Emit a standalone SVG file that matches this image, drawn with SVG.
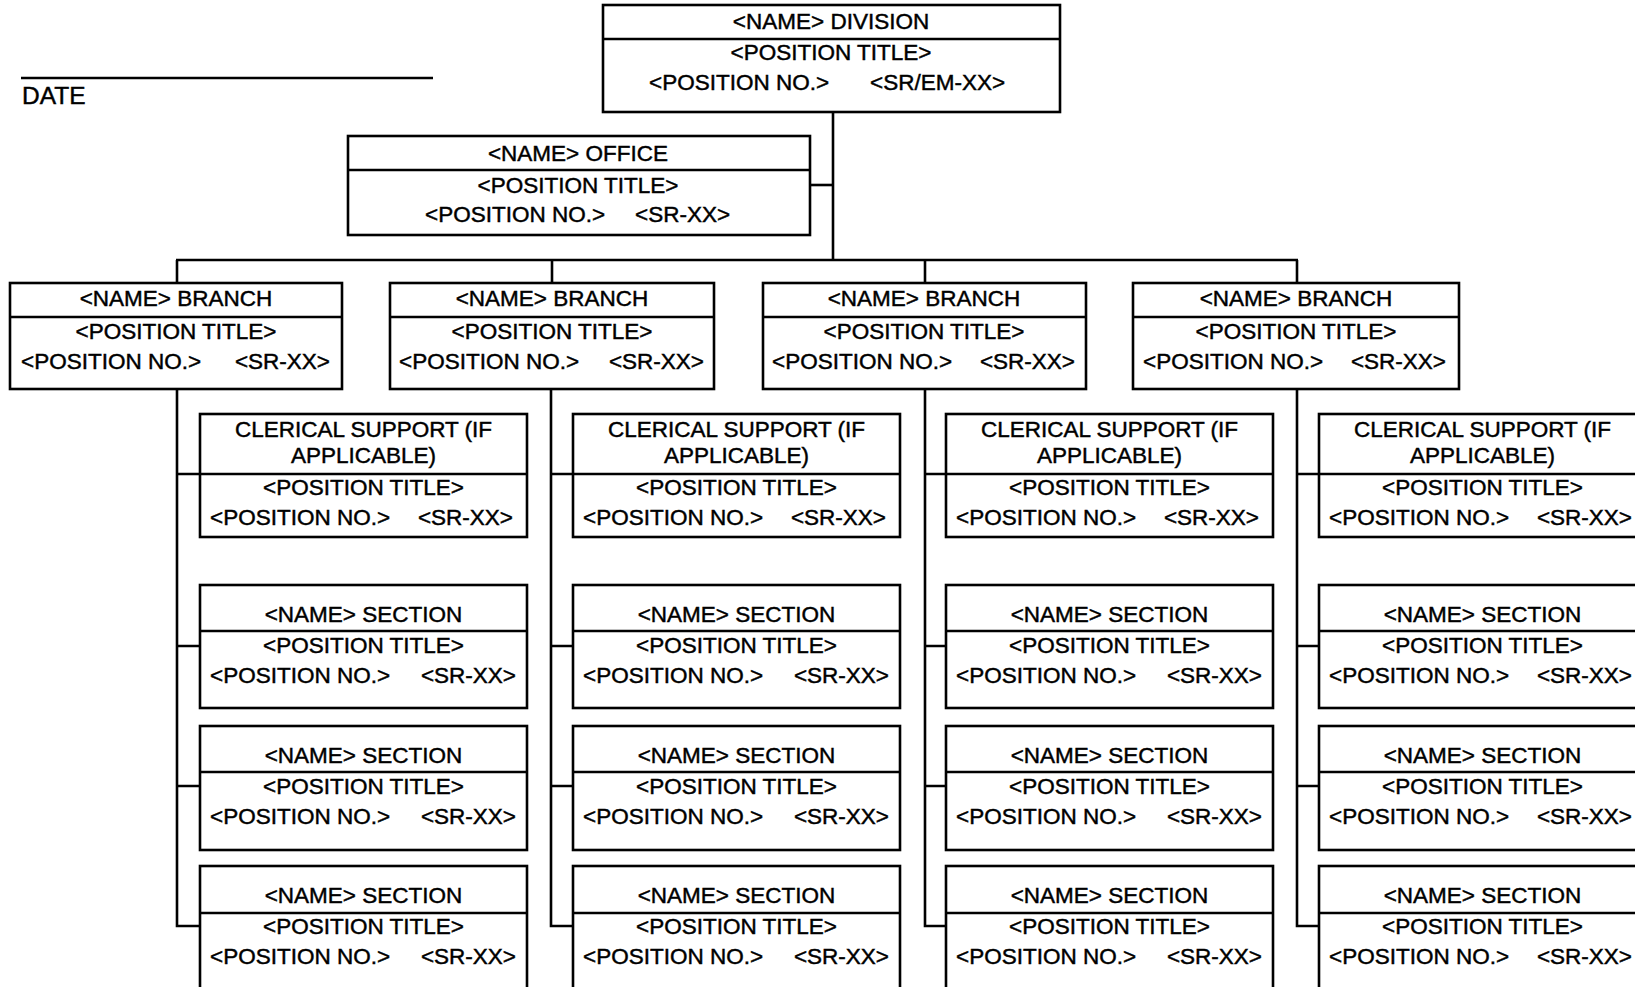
<svg xmlns="http://www.w3.org/2000/svg" width="1635" height="987" viewBox="0 0 1635 987">
<style>
.b{fill:none;stroke:#000;stroke-width:2.6}
.l{stroke:#000;stroke-width:2.6;fill:none}
text{font-family:"Liberation Sans",Arial,Helvetica,sans-serif;font-size:22.5px;fill:#000;stroke:#000;stroke-width:0.45}
.c{text-anchor:middle}
.e{text-anchor:end}
</style>
<rect width="1635" height="987" fill="#fff"/>
<g id="date">
<line class="l" x1="21" y1="78" x2="433" y2="78"/>
<text x="22" y="104" style="font-size:24.5px">DATE</text>
</g>
<g id="connectors">
<line class="l" x1="833" y1="112" x2="833" y2="261"/>
<line class="l" x1="810" y1="185" x2="833" y2="185"/>
<line class="l" x1="176" y1="260" x2="1298" y2="260"/>
<line class="l" x1="177" y1="260" x2="177" y2="283"/>
<line class="l" x1="552" y1="260" x2="552" y2="283"/>
<line class="l" x1="925" y1="260" x2="925" y2="283"/>
<line class="l" x1="1297" y1="260" x2="1297" y2="283"/>
<path class="l" d="M177 389V926H200M177 474H200M177 646H200M177 786H200"/>
<path class="l" d="M551 389V926H573M551 474H573M551 646H573M551 786H573"/>
<path class="l" d="M925 389V926H946M925 474H946M925 646H946M925 786H946"/>
<path class="l" d="M1297 389V926H1319M1297 474H1319M1297 646H1319M1297 786H1319"/>
</g>
<g id="division">
<rect class="b" x="603" y="5" width="457" height="107"/>
<line class="l" x1="603" y1="39" x2="1060" y2="39"/>
<text class="c" x="831" y="29">&lt;NAME&gt; DIVISION</text>
<text class="c" x="831" y="60">&lt;POSITION TITLE&gt;</text>
<text x="649" y="90">&lt;POSITION NO.&gt;</text>
<text x="870" y="90">&lt;SR/EM-XX&gt;</text>
</g>
<g id="office">
<rect class="b" x="348" y="136" width="462" height="99"/>
<line class="l" x1="348" y1="170" x2="810" y2="170"/>
<text class="c" x="578" y="161">&lt;NAME&gt; OFFICE</text>
<text class="c" x="578" y="193">&lt;POSITION TITLE&gt;</text>
<text x="425" y="222">&lt;POSITION NO.&gt;</text>
<text x="635" y="222">&lt;SR-XX&gt;</text>
</g>
<g id="branch1">
<rect class="b" x="10" y="283" width="332" height="106"/>
<line class="l" x1="10" y1="317" x2="342" y2="317"/>
<text class="c" x="176" y="306">&lt;NAME&gt; BRANCH</text>
<text class="c" x="176" y="339">&lt;POSITION TITLE&gt;</text>
<text x="21" y="369">&lt;POSITION NO.&gt;</text>
<text class="e" x="330" y="369">&lt;SR-XX&gt;</text>
</g>
<g id="branch2">
<rect class="b" x="390" y="283" width="324" height="106"/>
<line class="l" x1="390" y1="317" x2="714" y2="317"/>
<text class="c" x="552" y="306">&lt;NAME&gt; BRANCH</text>
<text class="c" x="552" y="339">&lt;POSITION TITLE&gt;</text>
<text x="399" y="369">&lt;POSITION NO.&gt;</text>
<text class="e" x="704" y="369">&lt;SR-XX&gt;</text>
</g>
<g id="branch3">
<rect class="b" x="763" y="283" width="323" height="106"/>
<line class="l" x1="763" y1="317" x2="1086" y2="317"/>
<text class="c" x="924" y="306">&lt;NAME&gt; BRANCH</text>
<text class="c" x="924" y="339">&lt;POSITION TITLE&gt;</text>
<text x="772" y="369">&lt;POSITION NO.&gt;</text>
<text class="e" x="1075" y="369">&lt;SR-XX&gt;</text>
</g>
<g id="branch4">
<rect class="b" x="1133" y="283" width="326" height="106"/>
<line class="l" x1="1133" y1="317" x2="1459" y2="317"/>
<text class="c" x="1296" y="306">&lt;NAME&gt; BRANCH</text>
<text class="c" x="1296" y="339">&lt;POSITION TITLE&gt;</text>
<text x="1143" y="369">&lt;POSITION NO.&gt;</text>
<text class="e" x="1446" y="369">&lt;SR-XX&gt;</text>
</g>
<g id="clerical1">
<rect class="b" x="200" y="414" width="327" height="123"/>
<line class="l" x1="200" y1="474" x2="527" y2="474"/>
<text class="c" x="363.5" y="437">CLERICAL SUPPORT (IF</text>
<text class="c" x="363.5" y="463">APPLICABLE)</text>
<text class="c" x="363.5" y="495">&lt;POSITION TITLE&gt;</text>
<text x="210" y="525">&lt;POSITION NO.&gt;</text>
<text class="e" x="513" y="525">&lt;SR-XX&gt;</text>
</g>
<g id="clerical2">
<rect class="b" x="573" y="414" width="327" height="123"/>
<line class="l" x1="573" y1="474" x2="900" y2="474"/>
<text class="c" x="736.5" y="437">CLERICAL SUPPORT (IF</text>
<text class="c" x="736.5" y="463">APPLICABLE)</text>
<text class="c" x="736.5" y="495">&lt;POSITION TITLE&gt;</text>
<text x="583" y="525">&lt;POSITION NO.&gt;</text>
<text class="e" x="886" y="525">&lt;SR-XX&gt;</text>
</g>
<g id="clerical3">
<rect class="b" x="946" y="414" width="327" height="123"/>
<line class="l" x1="946" y1="474" x2="1273" y2="474"/>
<text class="c" x="1109.5" y="437">CLERICAL SUPPORT (IF</text>
<text class="c" x="1109.5" y="463">APPLICABLE)</text>
<text class="c" x="1109.5" y="495">&lt;POSITION TITLE&gt;</text>
<text x="956" y="525">&lt;POSITION NO.&gt;</text>
<text class="e" x="1259" y="525">&lt;SR-XX&gt;</text>
</g>
<g id="clerical4">
<rect class="b" x="1319" y="414" width="327" height="123"/>
<line class="l" x1="1319" y1="474" x2="1646" y2="474"/>
<text class="c" x="1482.5" y="437">CLERICAL SUPPORT (IF</text>
<text class="c" x="1482.5" y="463">APPLICABLE)</text>
<text class="c" x="1482.5" y="495">&lt;POSITION TITLE&gt;</text>
<text x="1329" y="525">&lt;POSITION NO.&gt;</text>
<text class="e" x="1632" y="525">&lt;SR-XX&gt;</text>
</g>
<g id="section1a">
<rect class="b" x="200" y="585" width="327" height="123"/>
<line class="l" x1="200" y1="631" x2="527" y2="631"/>
<text class="c" x="363.5" y="622">&lt;NAME&gt; SECTION</text>
<text class="c" x="363.5" y="653">&lt;POSITION TITLE&gt;</text>
<text x="210" y="683">&lt;POSITION NO.&gt;</text>
<text class="e" x="516" y="683">&lt;SR-XX&gt;</text>
</g>
<g id="section1b">
<rect class="b" x="200" y="726" width="327" height="124"/>
<line class="l" x1="200" y1="772" x2="527" y2="772"/>
<text class="c" x="363.5" y="763">&lt;NAME&gt; SECTION</text>
<text class="c" x="363.5" y="794">&lt;POSITION TITLE&gt;</text>
<text x="210" y="824">&lt;POSITION NO.&gt;</text>
<text class="e" x="516" y="824">&lt;SR-XX&gt;</text>
</g>
<g id="section1c">
<rect class="b" x="200" y="866" width="327" height="132"/>
<line class="l" x1="200" y1="913" x2="527" y2="913"/>
<text class="c" x="363.5" y="903">&lt;NAME&gt; SECTION</text>
<text class="c" x="363.5" y="934">&lt;POSITION TITLE&gt;</text>
<text x="210" y="964">&lt;POSITION NO.&gt;</text>
<text class="e" x="516" y="964">&lt;SR-XX&gt;</text>
</g>
<g id="section2a">
<rect class="b" x="573" y="585" width="327" height="123"/>
<line class="l" x1="573" y1="631" x2="900" y2="631"/>
<text class="c" x="736.5" y="622">&lt;NAME&gt; SECTION</text>
<text class="c" x="736.5" y="653">&lt;POSITION TITLE&gt;</text>
<text x="583" y="683">&lt;POSITION NO.&gt;</text>
<text class="e" x="889" y="683">&lt;SR-XX&gt;</text>
</g>
<g id="section2b">
<rect class="b" x="573" y="726" width="327" height="124"/>
<line class="l" x1="573" y1="772" x2="900" y2="772"/>
<text class="c" x="736.5" y="763">&lt;NAME&gt; SECTION</text>
<text class="c" x="736.5" y="794">&lt;POSITION TITLE&gt;</text>
<text x="583" y="824">&lt;POSITION NO.&gt;</text>
<text class="e" x="889" y="824">&lt;SR-XX&gt;</text>
</g>
<g id="section2c">
<rect class="b" x="573" y="866" width="327" height="132"/>
<line class="l" x1="573" y1="913" x2="900" y2="913"/>
<text class="c" x="736.5" y="903">&lt;NAME&gt; SECTION</text>
<text class="c" x="736.5" y="934">&lt;POSITION TITLE&gt;</text>
<text x="583" y="964">&lt;POSITION NO.&gt;</text>
<text class="e" x="889" y="964">&lt;SR-XX&gt;</text>
</g>
<g id="section3a">
<rect class="b" x="946" y="585" width="327" height="123"/>
<line class="l" x1="946" y1="631" x2="1273" y2="631"/>
<text class="c" x="1109.5" y="622">&lt;NAME&gt; SECTION</text>
<text class="c" x="1109.5" y="653">&lt;POSITION TITLE&gt;</text>
<text x="956" y="683">&lt;POSITION NO.&gt;</text>
<text class="e" x="1262" y="683">&lt;SR-XX&gt;</text>
</g>
<g id="section3b">
<rect class="b" x="946" y="726" width="327" height="124"/>
<line class="l" x1="946" y1="772" x2="1273" y2="772"/>
<text class="c" x="1109.5" y="763">&lt;NAME&gt; SECTION</text>
<text class="c" x="1109.5" y="794">&lt;POSITION TITLE&gt;</text>
<text x="956" y="824">&lt;POSITION NO.&gt;</text>
<text class="e" x="1262" y="824">&lt;SR-XX&gt;</text>
</g>
<g id="section3c">
<rect class="b" x="946" y="866" width="327" height="132"/>
<line class="l" x1="946" y1="913" x2="1273" y2="913"/>
<text class="c" x="1109.5" y="903">&lt;NAME&gt; SECTION</text>
<text class="c" x="1109.5" y="934">&lt;POSITION TITLE&gt;</text>
<text x="956" y="964">&lt;POSITION NO.&gt;</text>
<text class="e" x="1262" y="964">&lt;SR-XX&gt;</text>
</g>
<g id="section4a">
<rect class="b" x="1319" y="585" width="327" height="123"/>
<line class="l" x1="1319" y1="631" x2="1646" y2="631"/>
<text class="c" x="1482.5" y="622">&lt;NAME&gt; SECTION</text>
<text class="c" x="1482.5" y="653">&lt;POSITION TITLE&gt;</text>
<text x="1329" y="683">&lt;POSITION NO.&gt;</text>
<text class="e" x="1632" y="683">&lt;SR-XX&gt;</text>
</g>
<g id="section4b">
<rect class="b" x="1319" y="726" width="327" height="124"/>
<line class="l" x1="1319" y1="772" x2="1646" y2="772"/>
<text class="c" x="1482.5" y="763">&lt;NAME&gt; SECTION</text>
<text class="c" x="1482.5" y="794">&lt;POSITION TITLE&gt;</text>
<text x="1329" y="824">&lt;POSITION NO.&gt;</text>
<text class="e" x="1632" y="824">&lt;SR-XX&gt;</text>
</g>
<g id="section4c">
<rect class="b" x="1319" y="866" width="327" height="132"/>
<line class="l" x1="1319" y1="913" x2="1646" y2="913"/>
<text class="c" x="1482.5" y="903">&lt;NAME&gt; SECTION</text>
<text class="c" x="1482.5" y="934">&lt;POSITION TITLE&gt;</text>
<text x="1329" y="964">&lt;POSITION NO.&gt;</text>
<text class="e" x="1632" y="964">&lt;SR-XX&gt;</text>
</g>
</svg>
